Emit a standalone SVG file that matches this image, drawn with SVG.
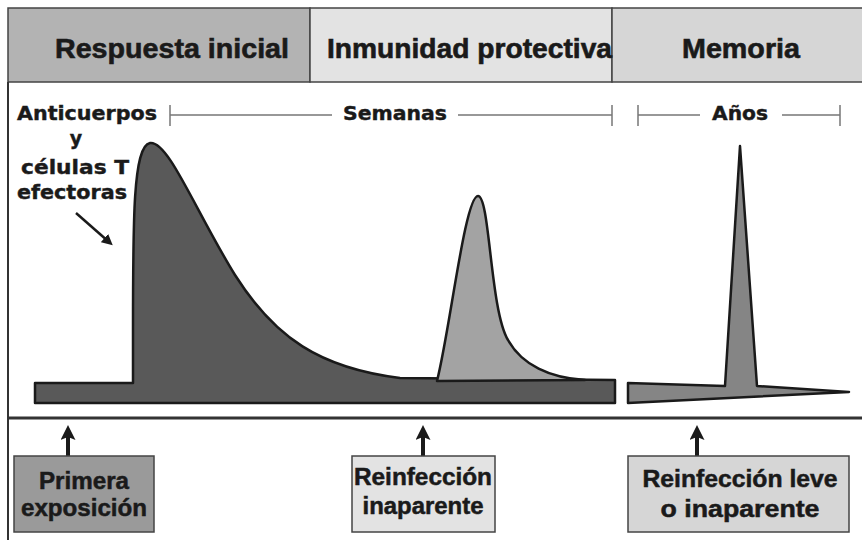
<svg xmlns="http://www.w3.org/2000/svg" width="862" height="540" viewBox="0 0 862 540">
<style>
.hdr{font-family:"Liberation Sans",Arial,sans-serif;font-weight:bold;font-size:27px;fill:#1a1a1a;stroke:#1a1a1a;stroke-width:0.6}
.lbl{font-family:"DejaVu Sans",Verdana,sans-serif;font-weight:bold;font-size:19px;fill:#1a1a1a;stroke:#1a1a1a;stroke-width:0.4}
.box{font-family:"Liberation Sans",Arial,sans-serif;font-weight:bold;font-size:23px;fill:#1a1a1a;stroke:#1a1a1a;stroke-width:0.5}
.hbox{stroke:#444;stroke-width:1.5}
.bbox{stroke:#444;stroke-width:1.5}
.rng{stroke:#777;stroke-width:1.5;fill:none}
.arr{stroke:#1a1a1a;stroke-width:4;fill:none}
</style>
<defs>
<marker id="ah" markerWidth="11" markerHeight="11" refX="6" refY="5.5" orient="auto" markerUnits="userSpaceOnUse">
<path d="M0,0 L11,5.5 L0,11 Z" fill="#1a1a1a"/>
</marker>
<marker id="ah2" markerWidth="15" markerHeight="15" refX="8" refY="7.5" orient="auto" markerUnits="userSpaceOnUse">
<path d="M0,0 L15,7.5 L0,15 L3,7.5 Z" fill="#1a1a1a"/>
</marker>
</defs>
<rect width="862" height="540" fill="#fff"/>
<g id="header">
<rect class="hbox" x="8" y="8" width="302" height="74" fill="#b3b3b3"/>
<rect class="hbox" x="310" y="8" width="302" height="74" fill="#e3e3e3"/>
<rect class="hbox" x="612" y="8" width="252" height="74" fill="#d6d6d6"/>
<text class="hdr" x="172" y="58" text-anchor="middle" textLength="234" lengthAdjust="spacingAndGlyphs">Respuesta inicial</text>
<text class="hdr" x="327" y="58" textLength="285" lengthAdjust="spacingAndGlyphs">Inmunidad protectiva</text>
<text class="hdr" x="741" y="58" text-anchor="middle" textLength="118" lengthAdjust="spacingAndGlyphs">Memoria</text>
</g>
<g id="frame" stroke="#333" fill="none">
<line x1="8" y1="82" x2="8" y2="540" stroke-width="2"/>
<line x1="8" y1="418" x2="862" y2="418" stroke-width="3"/>
</g>
<g id="ranges">
<path class="rng" d="M170,105 V126 M170,115 H332 M458,115 H612 M612,105 V126"/>
<text class="lbl" x="395" y="120" text-anchor="middle" textLength="104" lengthAdjust="spacingAndGlyphs">Semanas</text>
<path class="rng" d="M638,105 V126 M638,115 H700 M782,115 H840 M840,105 V126"/>
<text class="lbl" x="740" y="120" text-anchor="middle" textLength="56" lengthAdjust="spacingAndGlyphs">Años</text>
</g>
<g id="ylabel">
<text class="lbl" x="87" y="120" text-anchor="middle" textLength="140" lengthAdjust="spacingAndGlyphs">Anticuerpos</text>
<text class="lbl" x="76" y="145" text-anchor="middle">y</text>
<text class="lbl" x="75" y="174" text-anchor="middle" textLength="108" lengthAdjust="spacingAndGlyphs">células T</text>
<text class="lbl" x="72" y="199" text-anchor="middle" textLength="110" lengthAdjust="spacingAndGlyphs">efectoras</text>
</g>
<g id="curves" stroke="#1a1a1a" stroke-width="2.5" stroke-linejoin="round">
<path id="primary" fill="#595959" d="M35,383 L133,383 L133,330 C133,220 133,146 150,143 C168,140 195,210 235,275 C275,338 320,368 400,378 L615,380 L615,403 L35,403 Z"/>
<path id="secondary" fill="#a3a3a3" d="M437,381 C450,330 465,196 478,196 C490,196 490,310 508,340 C522,365 550,378 585,380 Z"/>
<path id="memory" fill="#858585" d="M628,383 L725,386 L740,146 L757,386 L849,392 L628,403 Z"/>
</g>
<g id="connectors">
<line class="arr" x1="68" y1="456" x2="68" y2="432" marker-end="url(#ah2)"/>
<line class="arr" x1="423" y1="456" x2="423" y2="432" marker-end="url(#ah2)"/>
<line class="arr" x1="697" y1="456" x2="697" y2="432" marker-end="url(#ah2)"/>
<line x1="76" y1="213" x2="109" y2="242" stroke="#1a1a1a" stroke-width="2.5" marker-end="url(#ah)"/>
</g>
<g id="box-primera">
<rect class="bbox" x="14" y="456" width="140" height="76" fill="#9a9a9a"/>
<text class="box" x="84" y="489" text-anchor="middle" textLength="90" lengthAdjust="spacingAndGlyphs">Primera</text>
<text class="box" x="84" y="516" text-anchor="middle" textLength="126" lengthAdjust="spacingAndGlyphs">exposición</text>
</g>
<g id="box-reinf">
<rect class="bbox" x="352" y="456" width="143" height="76" fill="#e3e3e3"/>
<text class="box" x="423" y="485" text-anchor="middle" textLength="138" lengthAdjust="spacingAndGlyphs">Reinfección</text>
<text class="box" x="423" y="514" text-anchor="middle" textLength="121" lengthAdjust="spacingAndGlyphs">inaparente</text>
</g>
<g id="box-reinf-leve">
<rect class="bbox" x="628" y="456" width="221" height="76" fill="#d6d6d6"/>
<text class="box" x="740" y="487" text-anchor="middle" textLength="195" lengthAdjust="spacingAndGlyphs">Reinfección leve</text>
<text class="box" x="740" y="517" text-anchor="middle" textLength="159" lengthAdjust="spacingAndGlyphs">o inaparente</text>
</g>
</svg>
